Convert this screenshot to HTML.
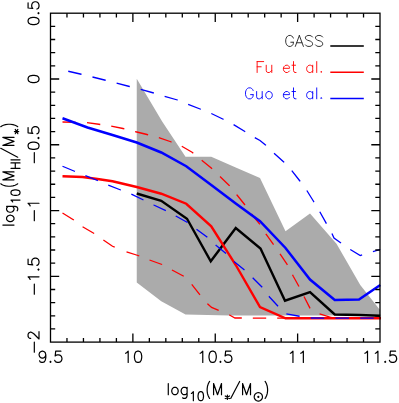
<!DOCTYPE html>
<html><head><meta charset="utf-8"><title>plot</title><style>
html,body{margin:0;padding:0;background:#fff;font-family:"Liberation Sans",sans-serif;}
svg{display:block;}
</style></head><body>
<svg width="399" height="403" viewBox="0 0 399 403">
<rect width="399" height="403" fill="#fff"/>
<polygon points="136.75,78.75 162.00,121.25 185.50,156.75 211.25,156.75 235.75,167.50 260.00,178.00 285.50,231.25 310.00,213.50 336.50,243.75 360.25,285.00 379.00,308.75 380.20,310.00 380.20,315.50 229.75,315.50 185.50,314.50 161.25,301.25 136.75,282.60" fill="#ababab"/>
<g fill="none" stroke-linejoin="miter" stroke-linecap="butt">
<polyline points="136.75,193.50 161.25,200.75 187.00,218.75 210.75,261.25 235.75,228.00 260.50,248.50 285.00,300.75 310.00,292.00 334.75,314.50 359.00,315.00 380.25,315.75" stroke="#000" stroke-width="2.4"/>
<polyline points="62.50,176.25 82.50,177.00 97.50,179.00 112.50,181.25 136.75,187.00 161.25,193.75 186.25,203.75 211.25,226.25 235.75,265.00 260.00,307.00 285.50,318.25 381.00,318.25" stroke="#f00" stroke-width="2.4"/>
<polyline points="62.50,122.00 85.75,122.50 98.75,124.25 110.00,126.00 123.00,128.50 136.75,132.00 147.00,134.50 158.25,137.50 170.75,141.75 181.75,146.25 192.50,152.50 201.25,160.00 211.25,168.00 220.50,177.00 229.50,185.75 237.00,195.00 245.00,205.00 251.25,213.75 260.00,224.50 266.25,234.50 273.75,245.00 280.00,253.75 287.50,265.00 293.25,276.25 299.50,287.50 304.50,297.50 310.25,308.75 319.00,313.75 331.50,317.50 340.00,318.25 381.00,318.25" stroke="#f00" stroke-width="1.3" stroke-dasharray="13.4,11.1"/>
<polyline points="62.50,213.00 73.75,220.00 82.50,226.75 94.50,233.75 103.25,240.00 112.50,246.25 126.25,251.75 138.00,255.50 149.50,260.00 162.00,264.50 172.00,270.00 183.75,276.25 191.25,283.75 200.00,295.00 207.50,303.75 211.60,307.40 218.75,310.50 229.50,315.00 235.00,318.00 381.00,318.25" stroke="#f00" stroke-width="1.3" stroke-dasharray="13.4,11.0,13.4,11.3,13.4,12.7,13.4,11,13.4,11.2,13.4,11.4,13.4,11.4,13.4,11.4,13.4,11,13.4,11,13.4,11,13.4,11,13.4,11,13.4,11,13.4,11,13.4,11"/>
<polyline points="62.50,118.25 87.50,127.50 112.50,135.00 136.75,142.50 161.25,152.50 186.25,166.25 211.25,185.00 235.75,203.40 260.00,221.25 285.50,248.00 310.00,279.50 334.75,300.00 359.00,299.50 380.25,285.00" stroke="#00f" stroke-width="2.5"/>
<polyline points="68.25,71.25 81.25,74.25 92.50,77.00 105.50,80.25 116.25,83.00 129.50,86.50 140.50,89.25 153.75,93.00 164.50,96.25 177.50,100.00 188.00,104.25 200.75,109.25 210.75,113.25 223.25,119.25 233.00,124.25 244.50,131.25 254.50,137.50 260.00,140.50 265.50,145.00 273.25,152.50 283.75,162.00 291.25,170.00 299.50,180.50 306.50,190.00 313.50,201.25 319.50,211.25 326.50,223.75 331.50,232.50 334.00,238.00 340.25,242.50 349.00,248.75 360.25,255.50 371.50,252.00 380.25,249.50" stroke="#00f" stroke-width="1.3" stroke-dasharray="13.6,11.3"/>
<polyline points="62.50,166.25 74.50,171.25 85.00,175.50 97.50,180.50 108.00,185.00 120.75,190.00 131.25,194.00 142.50,199.50 153.75,205.00 166.25,210.75 176.25,216.25 187.50,222.50 197.50,230.00 207.00,237.00 216.25,245.50 226.25,253.75 233.75,261.25 244.50,270.00 252.50,277.50 262.50,287.50 269.50,297.00 278.75,307.00 286.25,313.75 299.50,316.25 310.00,318.00 381.00,318.25" stroke="#00f" stroke-width="1.3" stroke-dasharray="13.5,11.25"/>
</g>
<g stroke="#000" stroke-width="1.3" fill="none">
<rect x="50.5" y="13.2" width="329.5" height="328.90"/>
<path d="M66.97 342.1 V337.90 M66.97 13.2 V17.40 M83.45 342.1 V337.90 M83.45 13.2 V17.40 M99.93 342.1 V337.90 M99.93 13.2 V17.40 M116.40 342.1 V337.90 M116.40 13.2 V17.40 M132.88 342.1 V333.40 M132.88 13.2 V21.90 M149.35 342.1 V337.90 M149.35 13.2 V17.40 M165.82 342.1 V337.90 M165.82 13.2 V17.40 M182.30 342.1 V337.90 M182.30 13.2 V17.40 M198.78 342.1 V337.90 M198.78 13.2 V17.40 M215.25 342.1 V333.40 M215.25 13.2 V21.90 M231.72 342.1 V337.90 M231.72 13.2 V17.40 M248.20 342.1 V337.90 M248.20 13.2 V17.40 M264.68 342.1 V337.90 M264.68 13.2 V17.40 M281.15 342.1 V337.90 M281.15 13.2 V17.40 M297.62 342.1 V333.40 M297.62 13.2 V21.90 M314.10 342.1 V337.90 M314.10 13.2 V17.40 M330.57 342.1 V337.90 M330.57 13.2 V17.40 M347.05 342.1 V337.90 M347.05 13.2 V17.40 M363.53 342.1 V337.90 M363.53 13.2 V17.40 M50.5 328.94 H55.20 M380.0 328.94 H375.30 M50.5 315.79 H55.20 M380.0 315.79 H375.30 M50.5 302.63 H55.20 M380.0 302.63 H375.30 M50.5 289.48 H55.20 M380.0 289.48 H375.30 M50.5 276.32 H59.20 M380.0 276.32 H371.30 M50.5 263.16 H55.20 M380.0 263.16 H375.30 M50.5 250.01 H55.20 M380.0 250.01 H375.30 M50.5 236.85 H55.20 M380.0 236.85 H375.30 M50.5 223.70 H55.20 M380.0 223.70 H375.30 M50.5 210.54 H59.20 M380.0 210.54 H371.30 M50.5 197.38 H55.20 M380.0 197.38 H375.30 M50.5 184.23 H55.20 M380.0 184.23 H375.30 M50.5 171.07 H55.20 M380.0 171.07 H375.30 M50.5 157.92 H55.20 M380.0 157.92 H375.30 M50.5 144.76 H59.20 M380.0 144.76 H371.30 M50.5 131.60 H55.20 M380.0 131.60 H375.30 M50.5 118.45 H55.20 M380.0 118.45 H375.30 M50.5 105.29 H55.20 M380.0 105.29 H375.30 M50.5 92.14 H55.20 M380.0 92.14 H375.30 M50.5 78.98 H59.20 M380.0 78.98 H371.30 M50.5 65.82 H55.20 M380.0 65.82 H375.30 M50.5 52.67 H55.20 M380.0 52.67 H375.30 M50.5 39.51 H55.20 M380.0 39.51 H375.30 M50.5 26.36 H55.20 M380.0 26.36 H375.30"/>
</g>
<g fill="none" stroke-width="1.2" stroke-linecap="round" stroke-linejoin="round">
<path d="M45.82 354.91 L45.30 356.51 L44.26 357.58 L42.70 358.12 L42.18 358.12 L40.62 357.58 L39.58 356.51 L39.06 354.91 L39.06 354.38 L39.58 352.77 L40.62 351.70 L42.18 351.16 L42.70 351.16 L44.26 351.70 L45.30 352.77 L45.82 354.91 L45.82 357.58 L45.30 360.26 L44.26 361.86 L42.70 362.40 L41.66 362.40 L40.10 361.86 L39.58 360.79 M50.50 361.33 L49.98 361.86 L50.50 362.40 L51.02 361.86 L50.50 361.33 M60.90 351.16 L55.70 351.16 L55.18 355.98 L55.70 355.44 L57.26 354.91 L58.82 354.91 L60.38 355.44 L61.42 356.51 L61.94 358.12 L61.94 359.19 L61.42 360.79 L60.38 361.86 L58.82 362.40 L57.26 362.40 L55.70 361.86 L55.18 361.33 L54.66 360.26" stroke="#000"/>
<path d="M125.59 353.30 L126.63 352.77 L128.19 351.16 L128.19 362.40 M137.56 351.16 L136.00 351.70 L134.96 353.30 L134.44 355.98 L134.44 357.58 L134.96 360.26 L136.00 361.86 L137.56 362.40 L138.59 362.40 L140.16 361.86 L141.19 360.26 L141.72 357.58 L141.72 355.98 L141.19 353.30 L140.16 351.70 L138.59 351.16 L137.56 351.16" stroke="#000"/>
<path d="M200.17 353.30 L201.21 352.77 L202.77 351.16 L202.77 362.40 M212.13 351.16 L210.57 351.70 L209.53 353.30 L209.01 355.98 L209.01 357.58 L209.53 360.26 L210.57 361.86 L212.13 362.40 L213.17 362.40 L214.73 361.86 L215.77 360.26 L216.29 357.58 L216.29 355.98 L215.77 353.30 L214.73 351.70 L213.17 351.16 L212.13 351.16 M220.45 361.33 L219.93 361.86 L220.45 362.40 L220.97 361.86 L220.45 361.33 M230.85 351.16 L225.65 351.16 L225.13 355.98 L225.65 355.44 L227.21 354.91 L228.77 354.91 L230.33 355.44 L231.37 356.51 L231.89 358.12 L231.89 359.19 L231.37 360.79 L230.33 361.86 L228.77 362.40 L227.21 362.40 L225.65 361.86 L225.13 361.33 L224.61 360.26" stroke="#000"/>
<path d="M290.35 353.30 L291.39 352.77 L292.95 351.16 L292.95 362.40 M300.75 353.30 L301.79 352.77 L303.35 351.16 L303.35 362.40" stroke="#000"/>
<path d="M364.92 353.30 L365.96 352.77 L367.52 351.16 L367.52 362.40 M375.32 353.30 L376.36 352.77 L377.92 351.16 L377.92 362.40 M385.20 361.33 L384.68 361.86 L385.20 362.40 L385.72 361.86 L385.20 361.33 M395.60 351.16 L390.40 351.16 L389.88 355.98 L390.40 355.44 L391.96 354.91 L393.52 354.91 L395.08 355.44 L396.12 356.51 L396.64 358.12 L396.64 359.19 L396.12 360.79 L395.08 361.86 L393.52 362.40 L391.96 362.40 L390.40 361.86 L389.88 361.33 L389.36 360.26" stroke="#000"/>
<path d="M-8.32 -10.92 L-9.88 -10.40 L-10.92 -8.84 L-11.44 -6.24 L-11.44 -4.68 L-10.92 -2.08 L-9.88 -0.52 L-8.32 0.00 L-7.28 0.00 L-5.72 -0.52 L-4.68 -2.08 L-4.16 -4.68 L-4.16 -6.24 L-4.68 -8.84 L-5.72 -10.40 L-7.28 -10.92 L-8.32 -10.92 M0.00 -1.04 L-0.52 -0.52 L0.00 0.00 L0.52 -0.52 L0.00 -1.04 M10.40 -10.92 L5.20 -10.92 L4.68 -6.24 L5.20 -6.76 L6.76 -7.28 L8.32 -7.28 L9.88 -6.76 L10.92 -5.72 L11.44 -4.16 L11.44 -3.12 L10.92 -1.56 L9.88 -0.52 L8.32 0.00 L6.76 0.00 L5.20 -0.52 L4.68 -1.04 L4.16 -2.08" stroke="#000" transform="translate(39.0,13.20) rotate(-90)"/>
<path d="M-0.52 -10.92 L-2.08 -10.40 L-3.12 -8.84 L-3.64 -6.24 L-3.64 -4.68 L-3.12 -2.08 L-2.08 -0.52 L-0.52 0.00 L0.52 0.00 L2.08 -0.52 L3.12 -2.08 L3.64 -4.68 L3.64 -6.24 L3.12 -8.84 L2.08 -10.40 L0.52 -10.92 L-0.52 -10.92" stroke="#000" transform="translate(39.0,78.98) rotate(-90)"/>
<path d="M-17.94 -4.68 L-7.80 -4.68 M-1.56 -10.92 L-3.12 -10.40 L-4.16 -8.84 L-4.68 -6.24 L-4.68 -4.68 L-4.16 -2.08 L-3.12 -0.52 L-1.56 0.00 L-0.52 0.00 L1.04 -0.52 L2.08 -2.08 L2.60 -4.68 L2.60 -6.24 L2.08 -8.84 L1.04 -10.40 L-0.52 -10.92 L-1.56 -10.92 M6.76 -1.04 L6.24 -0.52 L6.76 0.00 L7.28 -0.52 L6.76 -1.04 M17.16 -10.92 L11.96 -10.92 L11.44 -6.24 L11.96 -6.76 L13.52 -7.28 L15.08 -7.28 L16.64 -6.76 L17.68 -5.72 L18.20 -4.16 L18.20 -3.12 L17.68 -1.56 L16.64 -0.52 L15.08 0.00 L13.52 0.00 L11.96 -0.52 L11.44 -1.04 L10.92 -2.08" stroke="#000" transform="translate(39.0,144.76) rotate(-90)"/>
<path d="M-10.14 -4.68 L0.00 -4.68 M4.68 -8.84 L5.72 -9.36 L7.28 -10.92 L7.28 0.00" stroke="#000" transform="translate(39.0,210.54) rotate(-90)"/>
<path d="M-17.94 -4.68 L-7.80 -4.68 M-3.12 -8.84 L-2.08 -9.36 L-0.52 -10.92 L-0.52 0.00 M6.76 -1.04 L6.24 -0.52 L6.76 0.00 L7.28 -0.52 L6.76 -1.04 M17.16 -10.92 L11.96 -10.92 L11.44 -6.24 L11.96 -6.76 L13.52 -7.28 L15.08 -7.28 L16.64 -6.76 L17.68 -5.72 L18.20 -4.16 L18.20 -3.12 L17.68 -1.56 L16.64 -0.52 L15.08 0.00 L13.52 0.00 L11.96 -0.52 L11.44 -1.04 L10.92 -2.08" stroke="#000" transform="translate(39.0,276.32) rotate(-90)"/>
<path d="M-10.14 -4.68 L0.00 -4.68 M3.64 -8.32 L3.64 -8.84 L4.16 -9.88 L4.68 -10.40 L5.72 -10.92 L7.80 -10.92 L8.84 -10.40 L9.36 -9.88 L9.88 -8.84 L9.88 -7.80 L9.36 -6.76 L8.32 -5.20 L3.12 0.00 L10.40 0.00" stroke="#000" transform="translate(39.0,342.10) rotate(-90)"/>
<path d="M293.30 38.08 L292.79 37.04 L291.78 36.00 L290.77 35.48 L288.75 35.48 L287.74 36.00 L286.73 37.04 L286.23 38.08 L285.72 39.64 L285.72 42.24 L286.23 43.80 L286.73 44.84 L287.74 45.88 L288.75 46.40 L290.77 46.40 L291.78 45.88 L292.79 44.84 L293.30 43.80 L293.30 42.24 M290.77 42.24 L293.30 42.24 M299.36 35.48 L295.32 46.40 M299.36 35.48 L303.40 46.40 M296.83 42.76 L301.88 42.76 M312.49 37.04 L311.48 36.00 L309.96 35.48 L307.94 35.48 L306.43 36.00 L305.42 37.04 L305.42 38.08 L305.92 39.12 L306.43 39.64 L307.44 40.16 L310.47 41.20 L311.48 41.72 L311.98 42.24 L312.49 43.28 L312.49 44.84 L311.48 45.88 L309.96 46.40 L307.94 46.40 L306.43 45.88 L305.42 44.84 M322.59 37.04 L321.58 36.00 L320.06 35.48 L318.04 35.48 L316.53 36.00 L315.52 37.04 L315.52 38.08 L316.02 39.12 L316.53 39.64 L317.54 40.16 L320.57 41.20 L321.58 41.72 L322.08 42.24 L322.59 43.28 L322.59 44.84 L321.58 45.88 L320.06 46.40 L318.04 46.40 L316.53 45.88 L315.52 44.84" stroke="#222" stroke-width="0.92"/>
<path d="M257.14 61.58 L257.14 72.50 M257.14 61.58 L263.70 61.58 M257.14 66.78 L261.18 66.78 M266.23 65.22 L266.23 70.42 L266.73 71.98 L267.75 72.50 L269.26 72.50 L270.27 71.98 L271.78 70.42 M271.78 65.22 L271.78 72.50 M283.40 68.34 L289.46 68.34 L289.46 67.30 L288.95 66.26 L288.45 65.74 L287.44 65.22 L285.93 65.22 L284.91 65.74 L283.90 66.78 L283.40 68.34 L283.40 69.38 L283.90 70.94 L284.91 71.98 L285.93 72.50 L287.44 72.50 L288.45 71.98 L289.46 70.94 M293.50 61.58 L293.50 70.42 L294.00 71.98 L295.01 72.50 L296.02 72.50 M291.98 65.22 L295.52 65.22 M312.69 65.22 L312.69 72.50 M312.69 66.78 L311.68 65.74 L310.67 65.22 L309.15 65.22 L308.14 65.74 L307.13 66.78 L306.63 68.34 L306.63 69.38 L307.13 70.94 L308.14 71.98 L309.15 72.50 L310.67 72.50 L311.68 71.98 L312.69 70.94 M316.73 61.58 L316.73 72.50 M321.27 71.46 L320.77 71.98 L321.27 72.50 L321.78 71.98 L321.27 71.46" stroke="#f00" stroke-width="0.92"/>
<path d="M253.10 90.48 L252.59 89.44 L251.58 88.40 L250.57 87.88 L248.55 87.88 L247.54 88.40 L246.53 89.44 L246.03 90.48 L245.52 92.04 L245.52 94.64 L246.03 96.20 L246.53 97.24 L247.54 98.28 L248.55 98.80 L250.57 98.80 L251.58 98.28 L252.59 97.24 L253.10 96.20 L253.10 94.64 M250.57 94.64 L253.10 94.64 M256.63 91.52 L256.63 96.72 L257.14 98.28 L258.15 98.80 L259.66 98.80 L260.67 98.28 L262.19 96.72 M262.19 91.52 L262.19 98.80 M268.25 91.52 L267.24 92.04 L266.23 93.08 L265.72 94.64 L265.72 95.68 L266.23 97.24 L267.24 98.28 L268.25 98.80 L269.76 98.80 L270.77 98.28 L271.78 97.24 L272.29 95.68 L272.29 94.64 L271.78 93.08 L270.77 92.04 L269.76 91.52 L268.25 91.52 M283.40 94.64 L289.46 94.64 L289.46 93.60 L288.95 92.56 L288.45 92.04 L287.44 91.52 L285.93 91.52 L284.91 92.04 L283.90 93.08 L283.40 94.64 L283.40 95.68 L283.90 97.24 L284.91 98.28 L285.93 98.80 L287.44 98.80 L288.45 98.28 L289.46 97.24 M293.50 87.88 L293.50 96.72 L294.00 98.28 L295.01 98.80 L296.02 98.80 M291.98 91.52 L295.52 91.52 M312.69 91.52 L312.69 98.80 M312.69 93.08 L311.68 92.04 L310.67 91.52 L309.15 91.52 L308.14 92.04 L307.13 93.08 L306.63 94.64 L306.63 95.68 L307.13 97.24 L308.14 98.28 L309.15 98.80 L310.67 98.80 L311.68 98.28 L312.69 97.24 M316.73 87.88 L316.73 98.80 M321.27 97.76 L320.77 98.28 L321.27 98.80 L321.78 98.28 L321.27 97.76" stroke="#00f" stroke-width="0.92"/>
<path d="M168.28 383.57 L168.28 394.70 M174.22 387.28 L173.23 387.81 L172.24 388.87 L171.75 390.46 L171.75 391.52 L172.24 393.11 L173.23 394.17 L174.22 394.70 L175.71 394.70 L176.70 394.17 L177.69 393.11 L178.18 391.52 L178.18 390.46 L177.69 388.87 L176.70 387.81 L175.71 387.28 L174.22 387.28 M187.09 387.28 L187.09 395.76 L186.60 397.35 L186.10 397.88 L185.11 398.41 L183.63 398.41 L182.64 397.88 M187.09 388.87 L186.10 387.81 L185.11 387.28 L183.63 387.28 L182.64 387.81 L181.65 388.87 L181.15 390.46 L181.15 391.52 L181.65 393.11 L182.64 394.17 L183.63 394.70 L185.11 394.70 L186.10 394.17 L187.09 393.11" stroke="#000"/>
<path d="M191.41 393.39 L192.19 392.96 L193.36 391.67 L193.36 400.70 M200.38 391.67 L199.21 392.10 L198.43 393.39 L198.04 395.54 L198.04 396.83 L198.43 398.98 L199.21 400.27 L200.38 400.70 L201.16 400.70 L202.33 400.27 L203.11 398.98 L203.50 396.83 L203.50 395.54 L203.11 393.39 L202.33 392.10 L201.16 391.67 L200.38 391.67" stroke="#000"/>
<path d="M209.62 381.45 L208.93 382.51 L208.18 384.10 L207.49 386.22 L207.15 388.87 L207.15 390.99 L207.49 393.64 L208.18 395.76 L208.93 397.35 L209.62 398.41 M213.58 383.57 L213.58 394.70 M213.58 383.57 L217.54 394.70 M221.50 383.57 L217.54 394.70 M221.50 383.57 L221.50 394.70" stroke="#000"/>
<path d="M227.38 395.11 L227.38 399.41 M225.24 395.97 L229.53 398.55 M229.53 395.97 L225.24 398.55" stroke="#000"/>
<path d="M239.62 381.45 L230.71 398.41 M242.59 383.57 L242.59 394.70 M242.59 383.57 L246.55 394.70 M250.51 383.57 L246.55 394.70 M250.51 383.57 L250.51 394.70" stroke="#000"/>
<path d="M262.47 396.83 L262.33 395.74 L261.92 394.72 L261.27 393.85 L260.41 393.18 L259.41 392.76 L258.34 392.62 L257.27 392.76 L256.27 393.18 L255.42 393.85 L254.76 394.72 L254.35 395.74 L254.21 396.83 L254.35 397.92 L254.76 398.94 L255.42 399.81 L256.27 400.48 L257.27 400.90 L258.34 401.04 L259.41 400.90 L260.41 400.48 L261.27 399.81 L261.92 398.94 L262.33 397.92 L262.47 396.83 M258.85 396.83 L258.70 396.46 L258.34 396.31 L257.98 396.46 L257.83 396.83 L257.98 397.20 L258.34 397.35 L258.70 397.20 L258.85 396.83 M258.54 396.83 L258.44 396.65 L258.24 396.65 L258.15 396.83 L258.24 397.01 L258.44 397.01 L258.54 396.83" stroke="#000"/>
<path d="M265.11 381.45 L265.80 382.51 L266.54 384.10 L267.23 386.22 L267.58 388.87 L267.58 390.99 L267.23 393.64 L266.54 395.76 L265.80 397.35 L265.11 398.41" stroke="#000"/>
<path d="M1.98 -11.13 L1.98 0.00 M7.92 -7.42 L6.93 -6.89 L5.94 -5.83 L5.45 -4.24 L5.45 -3.18 L5.94 -1.59 L6.93 -0.53 L7.92 0.00 L9.41 0.00 L10.39 -0.53 L11.38 -1.59 L11.88 -3.18 L11.88 -4.24 L11.38 -5.83 L10.39 -6.89 L9.41 -7.42 L7.92 -7.42 M20.79 -7.42 L20.79 1.06 L20.29 2.65 L19.80 3.18 L18.81 3.71 L17.32 3.71 L16.33 3.18 M20.79 -5.83 L19.80 -6.89 L18.81 -7.42 L17.32 -7.42 L16.33 -6.89 L15.34 -5.83 L14.85 -4.24 L14.85 -3.18 L15.34 -1.59 L16.33 -0.53 L17.32 0.00 L18.81 0.00 L19.80 -0.53 L20.79 -1.59" stroke="#000" transform="translate(14.0,227.1) rotate(-90)"/>
<path d="M25.11 -1.31 L25.89 -1.74 L27.06 -3.03 L27.06 6.00 M34.08 -3.03 L32.91 -2.60 L32.13 -1.31 L31.74 0.84 L31.74 2.13 L32.13 4.28 L32.91 5.57 L34.08 6.00 L34.86 6.00 L36.03 5.57 L36.81 4.28 L37.20 2.13 L37.20 0.84 L36.81 -1.31 L36.03 -2.60 L34.86 -3.03 L34.08 -3.03" stroke="#000" transform="translate(14.0,227.1) rotate(-90)"/>
<path d="M43.32 -13.25 L42.63 -12.19 L41.88 -10.60 L41.19 -8.48 L40.84 -5.83 L40.84 -3.71 L41.19 -1.06 L41.88 1.06 L42.63 2.65 L43.32 3.71 M47.28 -11.13 L47.28 0.00 M47.28 -11.13 L51.24 0.00 M55.20 -11.13 L51.24 0.00 M55.20 -11.13 L55.20 0.00" stroke="#000" transform="translate(14.0,227.1) rotate(-90)"/>
<path d="M58.74 -3.03 L58.74 6.00 M64.20 -3.03 L64.20 6.00 M58.74 1.27 L64.20 1.27 M67.32 -3.03 L67.32 6.00" stroke="#000" transform="translate(14.0,227.1) rotate(-90)"/>
<path d="M78.78 -13.25 L69.87 3.71 M81.75 -11.13 L81.75 0.00 M81.75 -11.13 L85.71 0.00 M89.67 -11.13 L85.71 0.00 M89.67 -11.13 L89.67 0.00" stroke="#000" transform="translate(14.0,227.1) rotate(-90)"/>
<path d="M95.55 0.41 L95.55 4.71 M93.40 1.27 L97.69 3.85 M97.69 1.27 L93.40 3.85" stroke="#000" transform="translate(14.0,227.1) rotate(-90)"/>
<path d="M100.36 -13.25 L101.06 -12.19 L101.80 -10.60 L102.49 -8.48 L102.84 -5.83 L102.84 -3.71 L102.49 -1.06 L101.80 1.06 L101.06 2.65 L100.36 3.71" stroke="#000" transform="translate(14.0,227.1) rotate(-90)"/>
</g>
<g stroke-width="1.2">
<line x1="330.3" y1="46.0" x2="363.8" y2="46.0" stroke="#383838" stroke-width="2.0"/>
<line x1="330.3" y1="72.2" x2="363.8" y2="72.2" stroke="#f00" stroke-width="1.4"/>
<line x1="330.3" y1="98.6" x2="363.8" y2="98.6" stroke="#00f" stroke-width="1.5"/>
</g>
</svg>
</body></html>
